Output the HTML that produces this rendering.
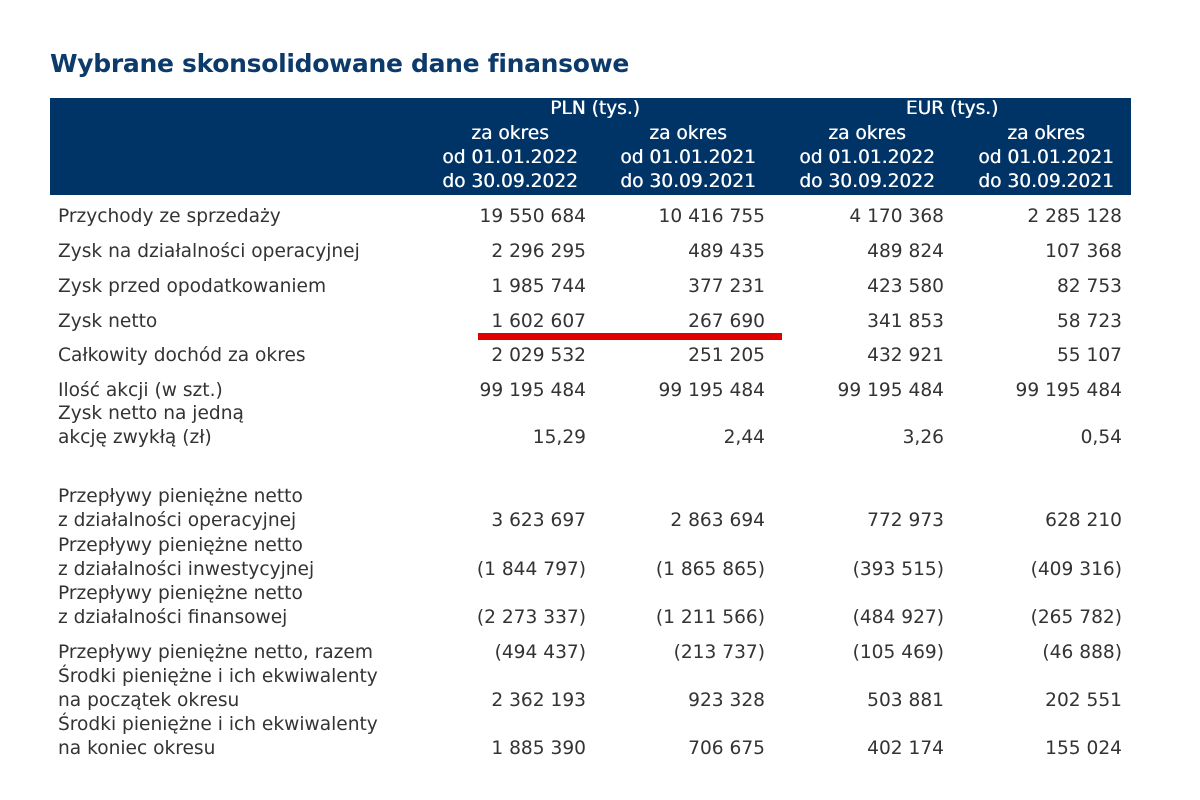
<!DOCTYPE html>
<html><head><meta charset="utf-8"><style>
body{margin:0;width:1200px;height:800px;background:#fff;position:relative;overflow:hidden;font-family:"DejaVu Sans","Liberation Sans",sans-serif;}
.t{position:absolute;left:50px;top:49px;font-size:25px;font-weight:bold;color:#0b3a6b;letter-spacing:-0.3px;white-space:nowrap}
.hd{position:absolute;left:50px;top:98px;width:1081px;height:97px;background:#003366}
.h{position:absolute;color:#fff;font-size:18.6px;line-height:24px;text-align:center;width:180px;white-space:nowrap;text-shadow:0.4px 0 0 #fff}
.r{position:absolute;font-size:18.6px;line-height:24px;color:#333;white-space:nowrap}
.l{left:58px}
.v{text-align:right;width:200px}
.red{position:absolute;left:478px;top:333px;width:304px;height:7px;background:#e00000}
</style></head><body>
<div class="t">Wybrane skonsolidowane dane finansowe</div>
<div class="hd"></div>
<div class="h" style="left:505px;top:97px">PLN (tys.)</div>
<div class="h" style="left:862px;top:97px">EUR (tys.)</div>
<div class="h" style="left:420px;top:122px">za okres<br>od 01.01.2022<br>do 30.09.2022</div>
<div class="h" style="left:598px;top:122px">za okres<br>od 01.01.2021<br>do 30.09.2021</div>
<div class="h" style="left:777px;top:122px">za okres<br>od 01.01.2022<br>do 30.09.2022</div>
<div class="h" style="left:956px;top:122px">za okres<br>od 01.01.2021<br>do 30.09.2021</div>
<div id="rows"></div>
<div class="red"></div>
<script>
var rows=[
[198,"Przychody ze sprzedaży",["19 550 684","10 416 755","4 170 368","2 285 128"]],
[233,"Zysk na działalności operacyjnej",["2 296 295","489 435","489 824","107 368"]],
[268,"Zysk przed opodatkowaniem",["1 985 744","377 231","423 580","82 753"]],
[303,"Zysk netto",["1 602 607","267 690","341 853","58 723"]],
[337,"Całkowity dochód za okres",["2 029 532","251 205","432 921","55 107"]],
[372,"Ilość akcji (w szt.)",["99 195 484","99 195 484","99 195 484","99 195 484"]],
[395,"Zysk netto na jedną<br>akcję zwykłą (zł)",["15,29","2,44","3,26","0,54"]],
[478,"Przepływy pieniężne netto<br>z działalności operacyjnej",["3 623 697","2 863 694","772 973","628 210"]],
[527,"Przepływy pieniężne netto<br>z działalności inwestycyjnej",["(1 844 797)","(1 865 865)","(393 515)","(409 316)"]],
[575,"Przepływy pieniężne netto<br>z działalności finansowej",["(2 273 337)","(1 211 566)","(484 927)","(265 782)"]],
[634,"Przepływy pieniężne netto, razem",["(494 437)","(213 737)","(105 469)","(46 888)"]],
[658,"Środki pieniężne i ich ekwiwalenty<br>na początek okresu",["2 362 193","923 328","503 881","202 551"]],
[706,"Środki pieniężne i ich ekwiwalenty<br>na koniec okresu",["1 885 390","706 675","402 174","155 024"]]
];
var R=[586,765,944,1122],h="";
rows.forEach(function(r){
 var lines=r[1].split("<br>").length, t=r[0]+7;
 h+='<div class="r l" style="top:'+t+'px">'+r[1]+'</div>';
 var vt=t+(lines-1)*24;
 r[2].forEach(function(v,i){h+='<div class="r v" style="left:'+(R[i]-200)+'px;top:'+vt+'px">'+v+'</div>';});
});
document.getElementById("rows").innerHTML=h;
</script>
</body></html>
